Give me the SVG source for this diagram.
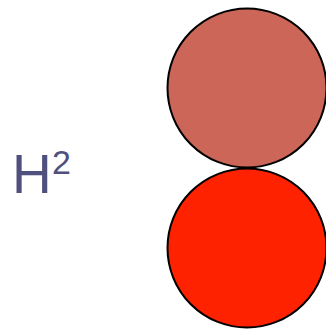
<svg xmlns="http://www.w3.org/2000/svg" width="326" height="331" viewBox="0 0 326 331">
<style>
.c{stroke:#000;stroke-width:2}
.t{font-family:"Liberation Sans",Arial,sans-serif;fill:#50507f}
</style>
<rect width="326" height="331" fill="#fff"/>
<g id="label"><text class="t" x="12" y="193" font-size="55">H</text><text class="t" x="52" y="174" font-size="34">2</text></g>
<g id="top"><circle class="c" cx="247" cy="88" r="79.5" fill="#cc6659"/></g>
<g id="bottom"><circle class="c" cx="247" cy="248" r="79.5" fill="#ff2200"/></g>
</svg>
